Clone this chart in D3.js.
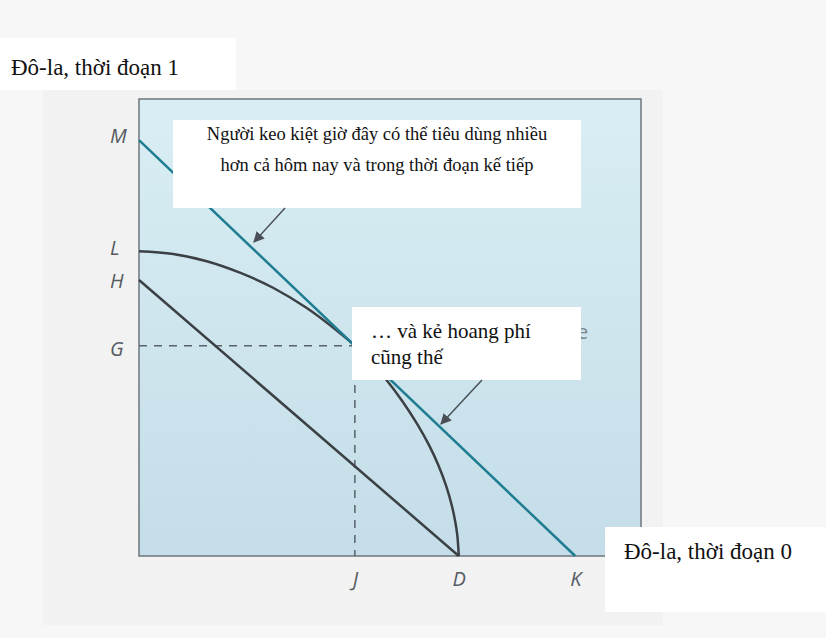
<!DOCTYPE html>
<html>
<head>
<meta charset="utf-8">
<script src="https://cdn.jsdelivr.net/npm/d3@7"></script>
<style>
  html, body { margin: 0; padding: 0; background: #f7f7f7; }
  svg { display: block; }
</style>
</head>
<body>
<svg id="chart" width="826" height="638"></svg>
<script>
// Intertemporal choice: a production frontier (L–D) lets both savers and
// spenders reach the higher market line M–K instead of H–D.

// Axis tick letters and their values (dollars, arbitrary units)
const yTickLabels = ["M", "L", "H", "G"];
const yTickValues = [91.0, 66.7, 60.4, 46.0];
const xTickLabels = ["J", "D", "K"];
const xTickValues = [43.0, 63.7, 86.9];

// Market opportunity line M–K (after investing)
const marketLine = [[0, 91.0], [86.9, 0]];
// Original endowment line H–D
const endowmentLine = [[0, 60.4], [63.7, 0]];
// Investment opportunity frontier L–D
const frontierX = [0, 6.8, 13.5, 20.1, 26.7, 33.5, 40.0, 43.0, 46.5, 49.3, 52.5, 55.4, 57.8, 59.7, 61.2, 62.3, 63.0, 63.4, 63.7];
const frontierY = [66.7, 66.1, 64.5, 62.0, 58.7, 54.2, 48.8, 46.0, 42.0, 38.5, 33.8, 28.9, 24.2, 19.7, 15.3, 11.1, 7.5, 4.6, 0];
// Optimal production point (J, G)
const optimum = [43.0, 46.0];

const yAxisTitle = "Đô-la, thời đoạn 1";
const xAxisTitle = "Đô-la, thời đoạn 0";
const note1 = ["Người keo kiệt giờ đây có thể tiêu dùng nhiều", "hơn cả hôm nay và trong thời đoạn kế tiếp"];
const note2 = ["… và kẻ hoang phí", "cũng thế"];

const svg = d3.select("#chart");
const plot = { left: 139, right: 641, top: 99, bottom: 556 };
// small vertical nudges for the letter labels on the vertical axis
const yLabelNudge = [-4, -3, 1, 3];

const x = d3.scaleLinear().domain([0, 100]).range([plot.left, plot.right]);
const y = d3.scaleLinear().domain([0, 100]).range([plot.bottom, plot.top]);

// page panel behind the figure
svg.append("rect").attr("x", 43).attr("y", 90).attr("width", 620).attr("height", 535)
  .attr("fill", "#f2f2f2");

// plot background gradient
const defs = svg.append("defs");
const grad = defs.append("linearGradient").attr("id", "bg").attr("x1", 0).attr("y1", 0).attr("x2", 0).attr("y2", 1);
grad.append("stop").attr("offset", "0%").attr("stop-color", "#d9eef4");
grad.append("stop").attr("offset", "100%").attr("stop-color", "#c4dde8");

defs.append("marker").attr("id", "arrow").attr("viewBox", "0 0 10 10")
  .attr("refX", 9).attr("refY", 5).attr("markerWidth", 11).attr("markerHeight", 11)
  .attr("markerUnits", "userSpaceOnUse").attr("orient", "auto")
  .append("path").attr("d", "M0,0 L10,5 L0,10 Z").attr("fill", "#4a5056");

svg.append("rect")
  .attr("x", plot.left).attr("y", plot.top)
  .attr("width", plot.right - plot.left).attr("height", plot.bottom - plot.top)
  .attr("fill", "url(#bg)").attr("stroke", "#6e767c").attr("stroke-width", 1.5);

const line = d3.line().x(d => x(d[0])).y(d => y(d[1]));
const smooth = d3.line().x(d => x(d[0])).y(d => y(d[1])).curve(d3.curveCatmullRom.alpha(0.5));

// dashed guides to the optimum
svg.append("path")
  .attr("d", line([[0, optimum[1]], optimum, [optimum[0], 0]]))
  .attr("fill", "none").attr("stroke", "#59626a").attr("stroke-width", 1.5)
  .attr("stroke-dasharray", "8,7");

// endowment line H–D
svg.append("path").attr("d", line(endowmentLine))
  .attr("fill", "none").attr("stroke", "#3b4045").attr("stroke-width", 2.5);

// frontier L–D
const frontier = frontierX.map((v, i) => [v, frontierY[i]]);
svg.append("path").attr("d", smooth(frontier))
  .attr("fill", "none").attr("stroke", "#3b4045").attr("stroke-width", 2.5);

// market line M–K
svg.append("path").attr("d", line(marketLine))
  .attr("fill", "none").attr("stroke", "#1f7d91").attr("stroke-width", 2.5);

// axes with letter ticks
const yAxis = d3.axisLeft(y).tickValues(yTickValues)
  .tickFormat((d, i) => yTickLabels[i]).tickSize(0).tickPadding(9);
const gy = svg.append("g").attr("transform", `translate(${plot.left},0)`).call(yAxis);
const xAxis = d3.axisBottom(x).tickValues(xTickValues)
  .tickFormat((d, i) => xTickLabels[i]).tickSize(0).tickPadding(16);
const gx = svg.append("g").attr("transform", `translate(0,${plot.bottom})`).call(xAxis);
[gx, gy].forEach(g => {
  g.select(".domain").remove();
  g.selectAll("text")
    .attr("font-family", "'Open Sans', sans-serif").attr("font-style", "italic")
    .attr("font-size", 20).attr("fill", "#555b60");
});
gy.selectAll("text").attr("text-anchor", "start").attr("x", 110 - plot.left)
  .attr("y", (d, i) => yLabelNudge[i]);

// residual letter peeking from under the second note
svg.append("text").attr("x", 577).attr("y", 339).text("e")
  .attr("font-family", "'Open Sans', sans-serif").attr("font-size", 20).attr("fill", "#7d858a");

// notes
function note(box, lines, opts) {
  svg.append("rect").attr("x", box[0]).attr("y", box[1])
    .attr("width", box[2] - box[0]).attr("height", box[3] - box[1]).attr("fill", "#ffffff");
  const t = svg.append("text")
    .attr("font-family", "'Liberation Serif', 'Times New Roman', serif")
    .attr("font-size", opts.size).attr("fill", "#111")
    .attr("text-anchor", opts.anchor);
  lines.forEach((s, i) => {
    t.append("tspan").attr("x", opts.x).attr("y", opts.y + i * opts.lh).text(s);
  });
}
note([173, 120, 581, 208], note1, { x: 377, y: 140, lh: 31, size: 18.5, anchor: "middle" });
note([352, 307, 581, 380], note2, { x: 371, y: 338, lh: 26, size: 21, anchor: "start" });

// arrows from notes to the market line
svg.append("line").attr("x1", 285).attr("y1", 208).attr("x2", 254).attr("y2", 242)
  .attr("stroke", "#4a5056").attr("stroke-width", 1.5).attr("marker-end", "url(#arrow)");
svg.append("line").attr("x1", 482).attr("y1", 380).attr("x2", 441).attr("y2", 424)
  .attr("stroke", "#4a5056").attr("stroke-width", 1.5).attr("marker-end", "url(#arrow)");

// axis titles on white labels
svg.append("rect").attr("x", 0).attr("y", 38).attr("width", 236).attr("height", 52).attr("fill", "#ffffff");
svg.append("text").attr("x", 11).attr("y", 75).text(yAxisTitle)
  .attr("font-family", "'Liberation Serif', 'Times New Roman', serif").attr("font-size", 23).attr("fill", "#111");
svg.append("rect").attr("x", 605).attr("y", 527).attr("width", 221).attr("height", 85).attr("fill", "#ffffff");
svg.append("text").attr("x", 624).attr("y", 559).text(xAxisTitle)
  .attr("font-family", "'Liberation Serif', 'Times New Roman', serif").attr("font-size", 23).attr("fill", "#111");
</script>
</body>
</html>
